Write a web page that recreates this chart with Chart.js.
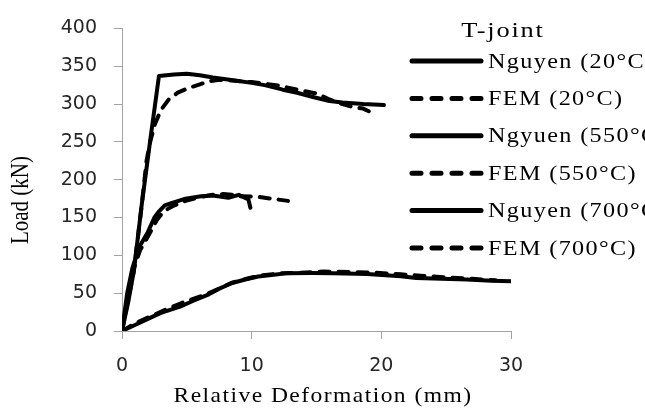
<!DOCTYPE html>
<html>
<head>
<meta charset="utf-8">
<script src="https://cdn.jsdelivr.net/npm/chart.js@4.4.1/dist/chart.umd.min.js"></script>
<style>
  html, body { margin: 0; padding: 0; background: #fff; }
  #wrap { width: 645px; height: 412px; }
</style>
</head>
<body>
<div id="wrap"><canvas id="myChart" width="645" height="412"></canvas></div>
<script>
const legendTitle = "T-joint";
const xAxisTitle = "Relative Deformation (mm)";
const yAxisTitle = "Load (kN)";
const xTicks = [0, 10, 20, 30];
const yTicks = [0, 50, 100, 150, 200, 250, 300, 350, 400];

const seriesLabels = [
  "Nguyen (20°C)",
  "FEM (20°C)",
  "Ngyuen (550°C)",
  "FEM (550°C)",
  "Nguyen (700°C)",
  "FEM (700°C)",
];

const nguyen20X = [0, 0.5, 0.93, 1.52, 2.2, 2.85, 4.0, 5.0, 6.0, 7.0, 8.3, 10.0, 11.0, 12.4, 13.5, 14.8, 16.0, 17.0, 18.6, 20.2];
const nguyen20Y = [0, 40, 81, 167, 255, 337, 339, 340, 338, 335, 332, 328, 325, 319, 315, 309, 304, 302, 300, 298.7];
const fem20X = [0, 0.9, 1.5, 1.9, 2.2, 2.55, 3.0, 3.6, 4.3, 5.1, 6.0, 6.7, 7.5, 8.5, 10.0, 11.0, 12.2, 13.5, 15.0, 16.0, 17.0, 17.8, 18.6, 19.1];
const fem20Y = [0, 78, 163, 226, 252, 274, 292, 306, 315, 321, 326, 330, 332, 331, 329, 327, 324, 319, 314, 306, 300, 296, 294, 290];

const nguyen550X = [0, 0.4, 0.8, 1.3, 2.0, 2.5, 2.8, 3.3, 3.8, 4.9, 6.1, 7.0, 7.4, 8.2, 9.0, 9.75, 9.9];
const nguyen550Y = [0, 50, 83, 110, 131, 150, 157, 166, 169, 175, 178, 179, 178, 176, 180, 174, 163];
const fem550X = [0, 0.45, 0.85, 1.4, 2.1, 2.7, 3.2, 3.9, 4.9, 6.0, 7.0, 7.8, 8.6, 9.2, 10.5, 11.5, 12.8];
const fem550Y = [0, 46, 80, 107, 128, 147, 158, 165, 172, 177, 180, 181, 180, 178, 177.5, 175, 172];

const nguyen700X = [0, 1.0, 2.0, 3.0, 4.6, 5.5, 6.7, 7.5, 8.5, 9.5, 10.5, 11.7, 12.8, 14.6, 16.3, 18.9, 21.5, 22.7, 24.0, 26.6, 28.5, 30.1];
const nguyen700Y = [0, 8, 16, 24, 33, 40, 48.5, 56, 63.5, 68, 72, 74.5, 76.5, 76.8, 76.5, 75.3, 72.5, 70, 69.5, 68, 66.5, 65.8];
const fem700X = [0, 1.0, 2.1, 3.2, 4.6, 5.6, 6.7, 7.6, 8.5, 9.6, 10.6, 12.0, 13.7, 15.5, 17.5, 19.5, 21.5, 23.0, 25.0, 27.0, 28.8];
const fem700Y = [0, 10, 18.5, 27, 37, 43, 50, 57, 64, 69, 73, 76, 77, 78.5, 78, 77, 75, 73, 71, 69, 67];

const seriesX = [nguyen20X, fem20X, nguyen550X, fem550X, nguyen700X, fem700X];
const seriesY = [nguyen20Y, fem20Y, nguyen550Y, fem550Y, nguyen700Y, fem700Y];

const toPoints = (xs, ys) => xs.map((x, i) => ({ x: x, y: ys[i] }));

const datasets = seriesLabels.map((label, i) => ({
  label: label,
  data: toPoints(seriesX[i], seriesY[i]),
  borderColor: "#000",
  backgroundColor: "#000",
  borderWidth: 4,
  borderDash: i % 2 === 1 ? [10, 9] : [],
  borderCapStyle: "round",
  borderJoinStyle: "round",
  pointRadius: 0,
  tension: 0,
  fill: false,
}));

// the source figure is stretched sideways, so widen text a little
const stretchText = (ctx, text, x, y, align, sx, spacing) => {
  ctx.save();
  ctx.translate(x, y);
  ctx.scale(sx, 1);
  ctx.letterSpacing = spacing + "px";
  ctx.textAlign = align;
  ctx.fillText(text, 0, 0);
  ctx.restore();
};

const textPlugin = {
  id: "textPlugin",
  afterDraw: (chart) => {
    const ctx = chart.ctx;
    ctx.save();
    ctx.fillStyle = "#000";
    ctx.textBaseline = "middle";

    ctx.font = '22px "Liberation Serif"';
    stretchText(ctx, legendTitle, 503, 31, "center", 1.2, 1.5);

    chart.data.datasets.forEach((ds, i) => {
      const y = 61 + i * 37.4;
      ctx.save();
      ctx.strokeStyle = "#000";
      ctx.lineWidth = 5;
      ctx.lineCap = "round";
      ctx.setLineDash(ds.borderDash.length ? [9, 11] : []);
      ctx.beginPath();
      ctx.moveTo(412, y);
      ctx.lineTo(481, y);
      ctx.stroke();
      ctx.restore();
      ctx.font = '21px "Liberation Serif"';
      stretchText(ctx, ds.label, 488, y + 1, "left", 1.15, 1.2);
    });

    ctx.font = '21px "Liberation Serif"';
    ctx.textBaseline = "alphabetic";
    stretchText(ctx, xAxisTitle, 323, 402, "center", 1.12, 1.3);

    ctx.translate(22, 200);
    ctx.rotate(-Math.PI / 2);
    ctx.scale(1, 1.15);
    ctx.textAlign = "center";
    ctx.textBaseline = "middle";
    ctx.fillText(yAxisTitle, 0, 0);
    ctx.restore();
  },
};

const axisColor = "#a3a3a3";
const tickFont = { family: "DejaVu Sans", size: 19 };

const config = {
  type: "line",
  data: { datasets: datasets },
  options: {
    responsive: false,
    animation: false,
    layout: { padding: { top: 22, right: 134, left: 0, bottom: 0 } },
    plugins: {
      legend: { display: false },
      tooltip: { enabled: false },
    },
    scales: {
      x: {
        type: "linear",
        min: 0,
        max: 30,
        afterBuildTicks: (scale) => {
          scale.ticks = xTicks.map((v) => ({ value: v }));
        },
        afterFit: (scale) => {
          scale.height = 81;
        },
        ticks: { color: "#262626", font: tickFont, padding: 16 },
        grid: { drawOnChartArea: false, drawTicks: true, tickLength: 8, color: axisColor },
        border: { display: true, color: axisColor, width: 1 },
      },
      y: {
        type: "linear",
        min: 0,
        max: 400,
        afterBuildTicks: (scale) => {
          scale.ticks = yTicks.map((v) => ({ value: v }));
        },
        afterFit: (scale) => {
          scale.width = 122;
        },
        ticks: { color: "#262626", font: tickFont, padding: 17 },
        grid: { drawOnChartArea: false, drawTicks: true, tickLength: 8, color: axisColor },
        border: { display: true, color: axisColor, width: 1 },
      },
    },
  },
  plugins: [textPlugin],
};

const myChart = new Chart(document.getElementById("myChart"), config);
</script>
</body>
</html>
